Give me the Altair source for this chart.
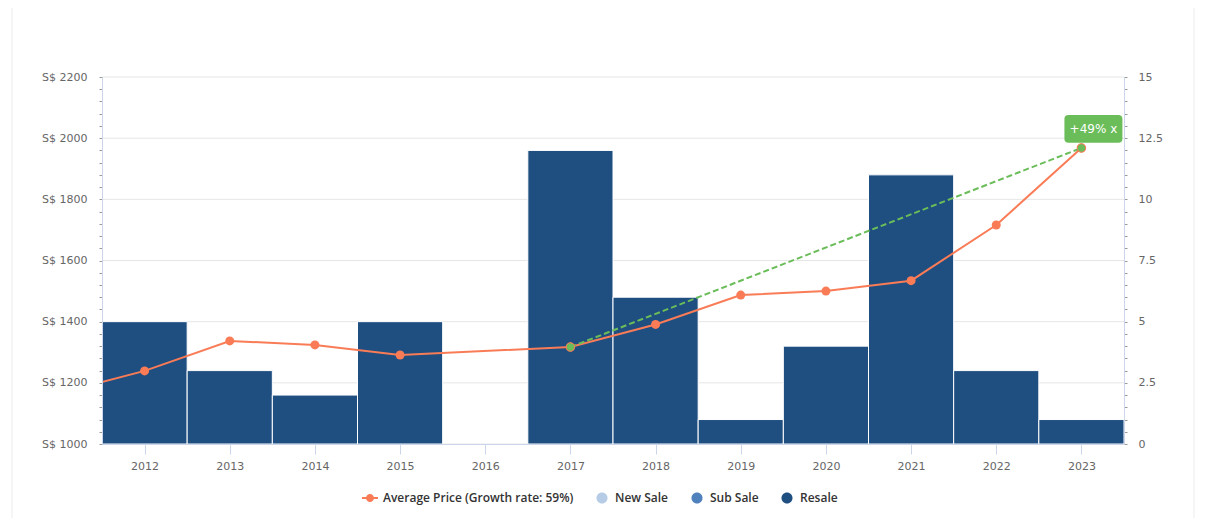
import altair as alt
import pandas as pd

# bars (right axis, units)
years = list(range(2012, 2024))
resale_units = [5, 3, 2, 5, 0, 12, 6, 1, 4, 11, 3, 1]

# average price line (left axis); 2011 is only there for the clipped lead-in, 2016 has no value
price_years = [2011, 2012, 2013, 2014, 2015, 2017, 2018, 2019, 2020, 2021, 2022, 2023]
avg_price = [1167, 1239, 1337, 1324, 1291, 1317, 1391, 1487, 1500, 1534, 1716, 1968]

growth_years = [2017, 2023]
growth_prices = [1317, 1968]
growth_label = "+49% x"

legend_names = ["Average Price (Growth rate: 59%)", "New Sale", "Sub Sale", "Resale"]
legend_colors = ["#f97c57", "#b5cbe6", "#4f81bd", "#1f4e80"]

grid_prices = [1000, 1200, 1400, 1600, 1800, 2000, 2200]
price_ticks = list(range(1000, 2201, 40))
unit_ticks = [i / 2 for i in range(0, 31)]

FONT = "DejaVu Sans"
ORANGE = legend_colors[0]
NAVY = legend_colors[3]
GREEN = "#6abd59"
AXIS_BLUE = "#ccd6eb"

line_sym = ("M-1,-0.125 L1,-0.125 L1,0.125 L-1,0.125 Z "
            "M0.5,0 A0.5,0.5 0 1,1 -0.5,0 A0.5,0.5 0 1,1 0.5,0 Z")
circ_sym = "M0.69,0 A0.69,0.69 0 1,1 -0.69,0 A0.69,0.69 0 1,1 0.69,0 Z"
box_sym = ("M-0.86,-0.48 L0.86,-0.48 Q1,-0.48 1,-0.34 L1,0.34 Q1,0.48 0.86,0.48 "
           "L-0.86,0.48 Q-1,0.48 -1,0.34 L-1,-0.34 Q-1,-0.48 -0.86,-0.48 Z")

bars_df = pd.DataFrame({"year": years, "units": resale_units})
price_df = pd.DataFrame({"year": price_years, "price": avg_price})
growth_df = pd.DataFrame({"year": growth_years, "price": growth_prices})
label_df = pd.DataFrame({"year": [growth_years[1]], "price": [growth_prices[1]], "txt": [growth_label]})
legend_df = pd.DataFrame({"name": legend_names, "year": [2012] * 4, "price": [500] * 4})
grid_df = pd.DataFrame({"price": grid_prices})
one_df = pd.DataFrame({"a": [0]})

x_scale = alt.Scale(domain=[2011.5, 2023.5], nice=False, zero=False)
price_scale = alt.Scale(domain=[1000, 2200], nice=False, zero=False)

x_axis = alt.Axis(values=years, format="d", grid=False, tickSize=10,
                  tickColor=AXIS_BLUE, domainColor=AXIS_BLUE,
                  labelColor="#666666", labelFont=FONT, labelFontSize=11,
                  labelPadding=6, zindex=1)

# grid lines + left axis
grid = alt.Chart(grid_df).mark_rule(color="#e6e6e6", strokeWidth=1).encode(
    y=alt.Y("price:Q", scale=price_scale, title=None,
            axis=alt.Axis(orient="left", values=price_ticks, grid=False,
                          labelExpr="datum.value % 200 === 0 ? 'S$ ' + datum.value : ''",
                          labelOverlap=False, tickSize=3, tickColor="#999999",
                          domainColor=AXIS_BLUE, labelColor="#666666", labelFont=FONT,
                          labelFontSize=11, labelPadding=12, zindex=1))
)

bars = alt.Chart(bars_df).transform_filter("datum.units > 0").transform_calculate(
    x0="datum.year - 0.5", x1="datum.year + 0.5", base="0"
).mark_bar(color=NAVY, stroke="white", strokeWidth=1).encode(
    x=alt.X("x0:Q", scale=x_scale, title=None, axis=x_axis),
    x2="x1:Q",
    y=alt.Y("units:Q", scale=alt.Scale(domain=[0, 15], nice=False), title=None,
            axis=alt.Axis(orient="right", values=unit_ticks, grid=False,
                          labelExpr="datum.value % 2.5 === 0 ? format(datum.value, '~g') : ''",
                          labelOverlap=False, tickSize=3, tickColor="#999999",
                          domainColor=AXIS_BLUE, labelColor="#666666", labelFont=FONT,
                          labelFontSize=11, labelPadding=11, zindex=1)),
    y2="base:Q",
)

x_enc = alt.X("year:Q", scale=x_scale, title=None, axis=x_axis)
y_enc = alt.Y("price:Q", scale=price_scale, title=None, axis=None)

line = alt.Chart(price_df).mark_line(color=ORANGE, strokeWidth=2, clip=True).encode(
    x=x_enc, y=y_enc
)
dots = alt.Chart(price_df).mark_circle(color=ORANGE, size=81, opacity=1, clip=True).encode(
    x=x_enc, y=y_enc
)
growth_line = alt.Chart(growth_df).mark_line(color=GREEN, strokeWidth=2, strokeDash=[6, 3]).encode(
    x=x_enc, y=y_enc
)
growth_dots = alt.Chart(growth_df).mark_point(
    filled=True, fill=GREEN, stroke=ORANGE, strokeWidth=1, size=72, opacity=1
).encode(x=x_enc, y=y_enc)

box = alt.Chart(label_df).mark_point(
    shape=box_sym, filled=True, color=GREEN, size=3364, opacity=1, xOffset=12, yOffset=-19
).encode(x=x_enc, y=y_enc)
box_text = alt.Chart(label_df).mark_text(
    color="white", font=FONT, fontSize=12, xOffset=12, yOffset=-19, baseline="middle"
).encode(x=x_enc, y=y_enc, text="txt:N")

legend_cfg = dict(title=None, orient="none", direction="horizontal",
                  legendX=260, legendY=413, symbolSize=256, symbolStrokeWidth=0,
                  labelFont="Open Sans", labelFontSize=12, labelFontWeight=600,
                  labelColor="#333333", labelOffset=5, columnPadding=20, labelLimit=400)

legend_pts = alt.Chart(legend_df).mark_point(filled=True, opacity=1, clip=True).encode(
    x=x_enc, y=y_enc,
    color=alt.Color("name:N", scale=alt.Scale(domain=legend_names, range=legend_colors),
                    legend=alt.Legend(**legend_cfg)),
    shape=alt.Shape("name:N", scale=alt.Scale(domain=legend_names,
                                              range=[line_sym, circ_sym, circ_sym, circ_sym]),
                    legend=alt.Legend(**legend_cfg)),
)

border_l = alt.Chart(one_df).mark_rule(color="#ececec").encode(
    x=alt.value(-90), y=alt.value(-77), y2=alt.value(450)
)
border_r = alt.Chart(one_df).mark_rule(color="#ececec").encode(
    x=alt.value(1092), y=alt.value(-77), y2=alt.value(450)
)

overlay = alt.layer(line, dots, growth_line, growth_dots, box, box_text, legend_pts,
                    border_l, border_r)

chart = alt.layer(grid, bars, overlay).resolve_scale(
    y="independent"
).properties(
    width=1022,
    height=367,
    padding={"left": 94, "top": 69, "right": 97, "bottom": 74},
    autosize=alt.AutoSizeParams(type="none"),
    background="white",
).configure_view(stroke=None)

chart.save("out.html", embed_options={"renderer": "svg", "actions": False})
